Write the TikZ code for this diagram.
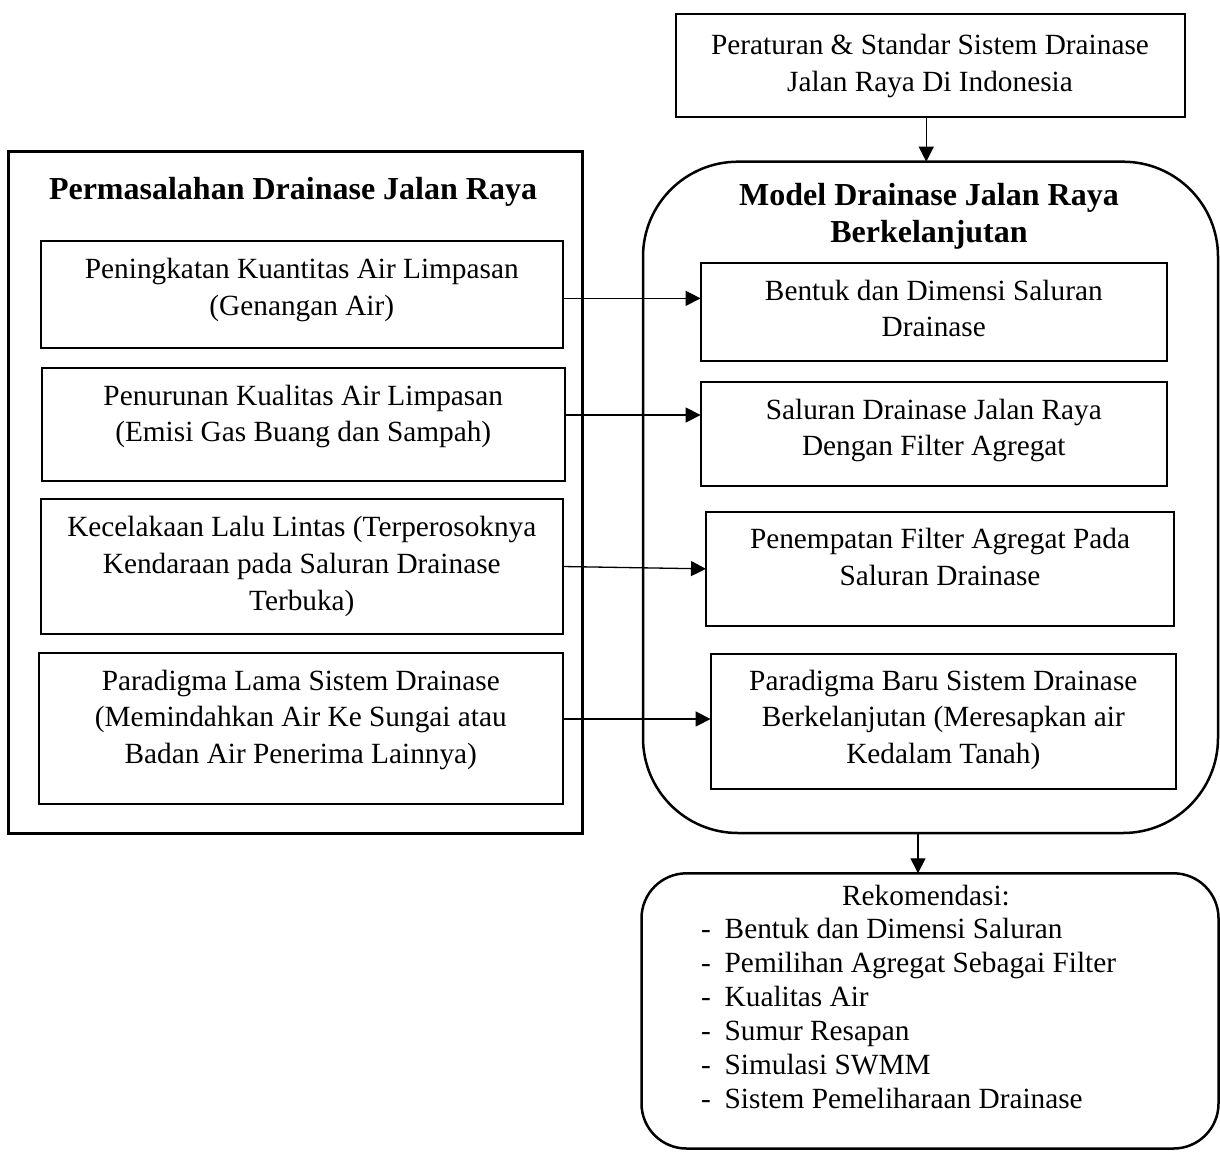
\documentclass[tikz,border=0pt]{standalone}
\usepackage{fontspec}
\setmainfont{Liberation Serif}
\usetikzlibrary{arrows.meta}
\begin{document}
\begin{tikzpicture}[x=1pt,y=-1pt,
  box/.style={draw, line width=2pt, rectangle, inner sep=0pt, outer sep=0pt},
  bigbox/.style={draw, line width=3pt, rectangle, inner sep=0pt, outer sep=0pt},
  roundbox/.style={draw, line width=2.5pt, rectangle, inner sep=0pt, outer sep=0pt},
  txt/.style={align=center, inner sep=0pt, anchor=north, font=\fontsize{29.3}{36.7}\selectfont},
  ttl/.style={inner sep=0pt, font=\fontsize{32}{36.6}\selectfont\bfseries},
  conn/.style={line width=1.3pt, -{Triangle[length=15pt,width=15pt]}}]
\useasboundingbox (0,0) rectangle (1220,1151);

% top box
\node[box, minimum width=509.5pt, minimum height=103.3pt] (top) at (930.25,65.65) {};
\node[txt] (toptxt) at (930,28.5) {\strut Peraturan \& Standar Sistem Drainase\\Jalan Raya Di Indonesia};

% left container
\node[bigbox, minimum width=574pt, minimum height=681.3pt] (left) at (295,492.35) {};
\node[ttl, anchor=base] (lefttitle) at (293,199) {Permasalahan Drainase Jalan Raya};

\node[box, minimum width=521.6pt, minimum height=107.3pt] (l1) at (301.8,294.35) {};
\node[txt] (l1t) at (301.8,252.6) {\strut Peningkatan Kuantitas Air Limpasan\\(Genangan Air)};
\node[box, minimum width=522.5pt, minimum height=113pt] (l2) at (303.25,424.2) {};
\node[txt] (l2t) at (303.25,379.3) {\strut Penurunan Kualitas Air Limpasan\\(Emisi Gas Buang dan Sampah)};
\node[box, minimum width=521.6pt, minimum height=135pt] (l3) at (301.8,566.5) {};
\node[txt] (l3t) at (301.8,511) {\strut Kecelakaan Lalu Lintas (Terperosoknya\\Kendaraan pada Saluran Drainase\\Terbuka)};
\node[box, minimum width=523.6pt, minimum height=151pt] (l4) at (300.8,728.5) {};
\node[txt] (l4t) at (300.8,664.3) {\strut Paradigma Lama Sistem Drainase\\(Memindahkan Air Ke Sungai atau\\Badan Air Penerima Lainnya)};

% right container
\node[roundbox, rounded corners=95pt, minimum width=575pt, minimum height=671.3pt] (big) at (930.5,497.35) {};
\node[ttl, align=center, anchor=north] (bigtitle) at (929,180) {\strut Model Drainase Jalan Raya\\Berkelanjutan};

\node[box, minimum width=466.4pt, minimum height=98.3pt] (r1) at (933.8,311.85) {};
\node[txt] (r1t) at (933.8,274.3) {\strut Bentuk dan Dimensi Saluran\\Drainase};
\node[box, minimum width=466.4pt, minimum height=104.3pt] (r2) at (933.8,433.85) {};
\node[txt] (r2t) at (933.8,393.3) {\strut Saluran Drainase Jalan Raya\\Dengan Filter Agregat};
\node[box, minimum width=468pt, minimum height=114.3pt] (r3) at (940,568.85) {};
\node[txt] (r3t) at (940,522.6) {\strut Penempatan Filter Agregat Pada\\Saluran Drainase};
\node[box, minimum width=465.4pt, minimum height=135pt] (r4) at (943.3,721.2) {};
\node[txt] (r4t) at (943.3,664.3) {\strut Paradigma Baru Sistem Drainase\\Berkelanjutan (Meresapkan air\\Kedalam Tanah)};

% bottom box
\node[roundbox, rounded corners=45pt, minimum width=577pt, minimum height=275.2pt] (rek) at (930,1010.9) {};
\node[inner sep=0pt, anchor=base, font=\fontsize{29.3}{34}\selectfont] (rekt) at (926,905) {Rekomendasi:};
\node[inner sep=0pt, anchor=north west, align=left, font=\fontsize{29.3}{34}\selectfont] (rekl) at (701,914.5)
  {\strut\makebox[23.5pt][l]{-}Bentuk dan Dimensi Saluran\\
   \makebox[23.5pt][l]{-}Pemilihan Agregat Sebagai Filter\\
   \makebox[23.5pt][l]{-}Kualitas Air\\
   \makebox[23.5pt][l]{-}Sumur Resapan\\
   \makebox[23.5pt][l]{-}Simulasi SWMM\\
   \makebox[23.5pt][l]{-}Sistem Pemeliharaan Drainase};

% connectors
\draw[conn] ([xshift=-4pt]top.south) -- ([xshift=-4pt]top.south |- big.north);
\draw[conn] ([yshift=-4pt]l1.east) -- ([yshift=-4pt]l1.east -| r1.west);
\draw[conn] ([yshift=9.2pt]l2.east) -- ([yshift=9.2pt]l2.east -| r2.west);
\draw[conn] (l3.east) -- (r3.west);
\draw[conn] ([yshift=9.5pt]l4.east) -- ([yshift=9.5pt]l4.east -| r4.west);
\draw[conn] ([xshift=-12.5pt]big.south) -- ([xshift=-12.5pt]big.south |- rek.north);
\end{tikzpicture}
\end{document}
